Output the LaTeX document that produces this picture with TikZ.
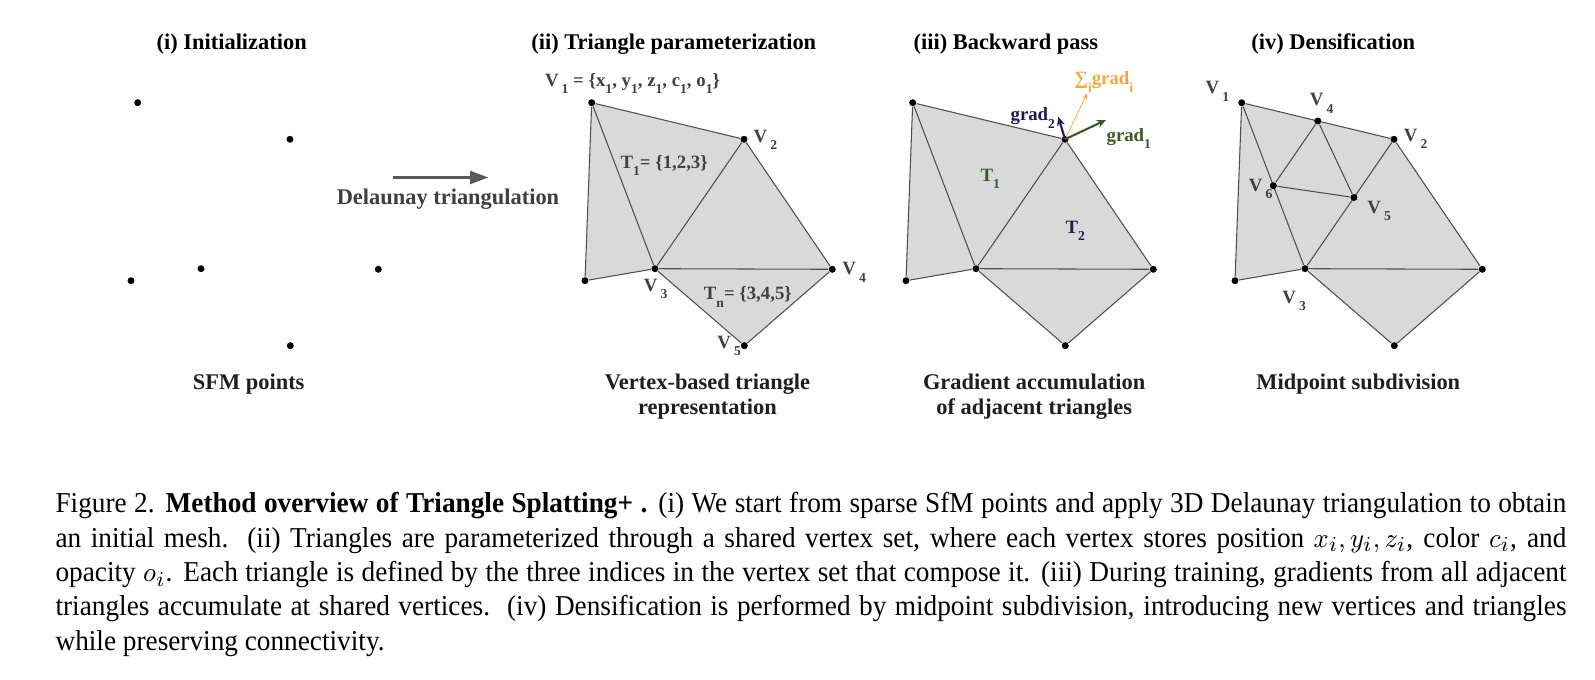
\documentclass[tikz,border=0pt]{standalone}
\usepackage{fontspec}
\setmainfont{Liberation Serif}
\usepackage{xcolor}
\usetikzlibrary{arrows.meta,positioning,calc,backgrounds}
\definecolor{meshfill}{HTML}{D9D9D9}
\definecolor{meshline}{HTML}{4F4F4F}
\definecolor{lblgray}{HTML}{404040}
\definecolor{arrgray}{HTML}{595959}
\definecolor{gnavy}{HTML}{221A4E}
\definecolor{ggreen}{HTML}{3B5A26}
\definecolor{gorange}{HTML}{F2A93B}
% low, small index as in the labels of the figure
\newcommand{\dn}[1]{\raisebox{-2.4pt}{\fontsize{4.5}{5}\selectfont #1}}
\tikzset{
  % black vertex dot
  vtx/.style     = {circle, fill=black, inner sep=0pt, minimum size=2.3pt},
  wire/.style    = {meshline, line width=0.35pt},
  ttl/.style     = {font=\fontsize{7.4}{8.3}\selectfont\bfseries, inner sep=0pt},
  sub/.style     = {font=\fontsize{7.4}{8.3}\selectfont\bfseries, text=black!88, align=center, inner sep=0pt},
  vlbl/.style    = {font=\fontsize{6.2}{7}\selectfont\bfseries, text=lblgray, inner sep=0pt},
  delarr/.style  = {-{Triangle[length=6pt,width=4.2pt]}, line width=1pt, arrgray},
  gradarr/.style = {-{Stealth[length=3pt,width=2.6pt]}, line width=0.7pt},
  sumarr/.style  = {-{Stealth[length=2pt,width=1.6pt]}, line width=0.25pt, gorange},
  capt/.style    = {font=\fontsize{9.5}{11.32}\selectfont, text width=526.5pt, align=justify,
                    inner sep=0pt, xscale=0.947, transform shape},
}

\begin{document}
\begin{tikzpicture}[x=0.33pt,y=-0.33pt]
\useasboundingbox (0,0) rectangle (1595,680);
% same point set in every panel, shifted
\foreach \p/\dx in {a/-454,b/0,c/321,d/650}{
  \begin{scope}[shift={(\dx,0)}]
    \node[vtx] (\p0) at (585,280.7) {};
    \node[vtx] (\p1) at (591.7,102.7) {};
    \node[vtx] (\p2) at (744,139.3) {};
    \node[vtx] (\p3) at (655,268.7) {};
    \node[vtx] (\p4) at (832.3,269.3) {};
    \node[vtx] (\p5) at (744.3,345.7) {};
  \end{scope}
}
% new points of the subdivision
\node[vtx] (d12) at ($(d1)!0.5!(d2)$) {};
\node[vtx] (d23) at ($(d2)!0.45!(d3)$) {};
\node[vtx] (d13) at ($(d1)!0.5!(d3)$) {};
\begin{scope}[on background layer]
  \foreach \p in {b,c,d}{
    \fill[meshfill] (\p0.center) -- (\p1.center) -- (\p2.center) -- (\p4.center) -- (\p5.center) -- (\p3.center) -- cycle;
    \draw[wire] (\p0) -- (\p1) -- (\p2) -- (\p4) -- (\p5) -- (\p3) -- (\p0) (\p1) -- (\p3) -- (\p2) (\p3) -- (\p4);
  }
  \draw[wire] (d12) -- (d13) -- (d23) -- (d12);
\end{scope}

% titles
\node[ttl, anchor=base] (ti) at (231.7,50) {(i) Initialization};
\node[ttl, anchor=base] (tii) at (673.8,50) {(ii) Triangle parameterization};
\node[ttl, anchor=base] (tiii) at (1005.8,50) {(iii) Backward pass};
\node[ttl, anchor=base] (tiv) at (1333.3,50) {(iv) Densification};

% (i) -> (ii)
\coordinate (dlA) at (392.7,177.5);
\coordinate (dlB) at (488.3,177.5);
\draw[delarr] (dlA) -- (dlB);
\node[ttl, text=lblgray, anchor=base] (dl) at (448,205) {Delaunay triangulation};

% (ii) labels
\node[vlbl, anchor=base] (lb1) at (632.5,86.7) {V\,\dn{1} = \{x\dn{1}, y\dn{1}, z\dn{1}, c\dn{1}, o\dn{1}\}};
\node[vlbl, anchor=base west] (lb2) at (753,142.7) {V\,\dn{2}};
\node[vlbl, anchor=base west] (lb3) at (643.3,291.7) {V\,\dn{3}};
\node[vlbl, anchor=base west] (lb4) at (841.7,275) {V\,\dn{4}};
\node[vlbl, anchor=base west] (lb5) at (716.7,348.3) {V\,\dn{5}};
\node[vlbl, anchor=base west] (lbt1) at (620,168.3) {T\dn{1}= \{1,2,3\}};
\node[vlbl, anchor=base west] (lbtn) at (703.3,300) {T\dn{n}= \{3,4,5\}};

% (iii) gradients at the shared vertex
\coordinate (g1) at (1106,120);
\coordinate (g2) at (1058.3,116.7);
\coordinate (gs) at (1087.3,93.3);
\draw[sumarr] (c2.center) -- (gs);
\draw[gradarr, gnavy] (c2.center) -- (g2);
\draw[gradarr, ggreen] (c2.center) -- (g1);
\node[vlbl, text=gorange, anchor=base west] (lgs) at (1074,85) {∑\dn{i}grad\dn{i}};
\node[vlbl, text=gnavy, anchor=base west] (lg2) at (1010,121) {grad\dn{2}};
\node[vlbl, text=ggreen, anchor=base west] (lg1) at (1106,141.7) {grad\dn{1}};
\node[vlbl, text=ggreen, anchor=base west] (lct1) at (980,181.7) {T\dn{1}};
\node[vlbl, text=gnavy, anchor=base west] (lct2) at (1065,233.3) {T\dn{2}};

% (iv) labels
\node[vlbl, anchor=base west] (ld1) at (1205,94) {V\,\dn{1}};
\node[vlbl, anchor=base west] (ld2) at (1403.3,141.7) {V\,\dn{2}};
\node[vlbl, anchor=base west] (ld3) at (1281.7,303.3) {V\,\dn{3}};
\node[vlbl, anchor=base west] (ld4) at (1309.3,106) {V\,\dn{4}};
\node[vlbl, anchor=base west] (ld5) at (1366.7,213.3) {V\,\dn{5}};
\node[vlbl, anchor=base west] (ld6) at (1248.3,191.7) {V\,\dn{6}};

% panel captions
\node[sub, anchor=base] (si) at (248.7,389.3) {SFM points};
\node[sub, anchor=north] (sii) at (707.5,373) {Vertex-based triangle\\representation};
\node[sub, anchor=north] (siii) at (1034.2,373) {Gradient accumulation\\of adjacent triangles};
\node[sub, anchor=base] (siv) at (1358.3,389.3) {Midpoint subdivision};

% figure caption
\node[capt, anchor=north west] (cap) at (55,492) {Figure 2. \textbf{Method overview of Triangle Splatting+ .} (i) We start from sparse SfM points and apply 3D Delaunay triangulation to obtain\linebreak an initial mesh.\ \ (ii) Triangles are parameterized through a shared vertex set, where each vertex stores position $x_i, y_i, z_i$, color $c_i$, and\linebreak opacity $o_i$. Each triangle is defined by the three indices in the vertex set that compose it. (iii) During training, gradients from all adjacent\linebreak triangles accumulate at shared vertices.\ \ (iv) Densification is performed by midpoint subdivision, introducing new vertices and triangles\linebreak while preserving connectivity.};
\end{tikzpicture}
\end{document}
